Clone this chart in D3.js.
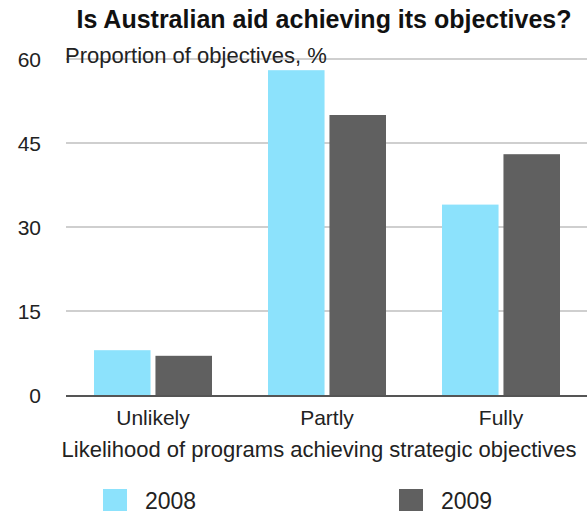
<!DOCTYPE html>
<meta charset="utf-8">
<style>
  body { margin: 0; background: #fff; }
  text { font-family: "Liberation Sans", Arial, sans-serif; fill: #222; }
</style>
<body>
<script src="https://d3js.org/d3.v7.min.js"></script>
<script>
  var width = 587, height = 515;

  // data
  var categories = ["Unlikely", "Partly", "Fully"];
  var years = ["2008", "2009"];
  var values2008 = [8, 58, 34];
  var values2009 = [7, 50, 43];
  var yTicks = [0, 15, 30, 45, 60];
  var colors = ["#8ce2fc", "#606060"];

  var margin = {left: 66, right: 0, top: 59, bottom: 120};

  var svg = d3.select("body").append("svg")
    .attr("width", width)
    .attr("height", height);

  var x = d3.scaleBand()
    .domain(categories)
    .range([margin.left, width + 1]);

  var y = d3.scaleLinear()
    .domain([0, 60])
    .range([395, 59]);

  // inner scale for the two years, bars ~56px with small gap
  var x1 = d3.scaleBand()
    .domain(years)
    .range([28, 146])
    .paddingInner(0.08);

  // gridlines
  svg.append("g").selectAll("line")
    .data(yTicks.filter(function(d) { return d > 0; }))
    .enter().append("line")
    .attr("x1", margin.left)
    .attr("x2", width)
    .attr("y1", function(d) { return y(d); })
    .attr("y2", function(d) { return y(d); })
    .style("stroke", "#cfcfcf")
    .style("stroke-width", 2);

  // tick labels
  svg.append("g").selectAll("text")
    .data(yTicks)
    .enter().append("text")
    .attr("x", 41)
    .attr("y", function(d) { return y(d) + 8; })
    .attr("text-anchor", "end")
    .style("font-size", "21px")
    .text(function(d) { return d; });

  var rows = categories.map(function(c, i) {
    return {cat: c, vals: [values2008[i], values2009[i]]};
  });

  var groups = svg.append("g").selectAll("g")
    .data(rows)
    .enter().append("g")
    .attr("transform", function(d) { return "translate(" + x(d.cat) + ",0)"; });

  groups.selectAll("rect")
    .data(function(d) { return d.vals.map(function(v, j) { return {year: years[j], v: v, j: j}; }); })
    .enter().append("rect")
    .attr("x", function(d) { return x1(d.year); })
    .attr("width", x1.bandwidth())
    .attr("y", function(d) { return y(d.v); })
    .attr("height", function(d) { return y(0) - y(d.v); })
    .style("fill", function(d) { return colors[d.j]; });

  // zero line
  svg.append("line")
    .attr("x1", margin.left).attr("x2", width)
    .attr("y1", y(0) + 1).attr("y2", y(0) + 1)
    .style("stroke", "#555")
    .style("stroke-width", 2);

  // category labels
  svg.append("g").selectAll("text")
    .data(categories)
    .enter().append("text")
    .attr("x", function(d) { return x(d) + x.bandwidth() / 2; })
    .attr("y", 425)
    .attr("text-anchor", "middle")
    .style("font-size", "21px")
    .text(function(d) { return d; });

  // titles
  svg.append("text")
    .attr("x", 324).attr("y", 28)
    .attr("text-anchor", "middle")
    .style("font-size", "25px")
    .style("font-weight", "bold")
    .style("fill", "#111")
    .text("Is Australian aid achieving its objectives?");

  svg.append("text")
    .attr("x", 65).attr("y", 63)
    .style("font-size", "22px")
    .text("Proportion of objectives, %");

  svg.append("text")
    .attr("x", 319).attr("y", 457)
    .attr("text-anchor", "middle")
    .style("font-size", "22px")
    .text("Likelihood of programs achieving strategic objectives");

  // legend
  var legendX = [103, 399];
  var legend = svg.append("g").selectAll("g")
    .data(years)
    .enter().append("g")
    .attr("transform", function(d, i) { return "translate(" + legendX[i] + ",489)"; });
  legend.append("rect")
    .attr("width", 24).attr("height", 22)
    .style("fill", function(d, i) { return colors[i]; });
  legend.append("text")
    .attr("x", 42).attr("y", 20)
    .style("font-size", "23px")
    .text(function(d) { return d; });
</script>
